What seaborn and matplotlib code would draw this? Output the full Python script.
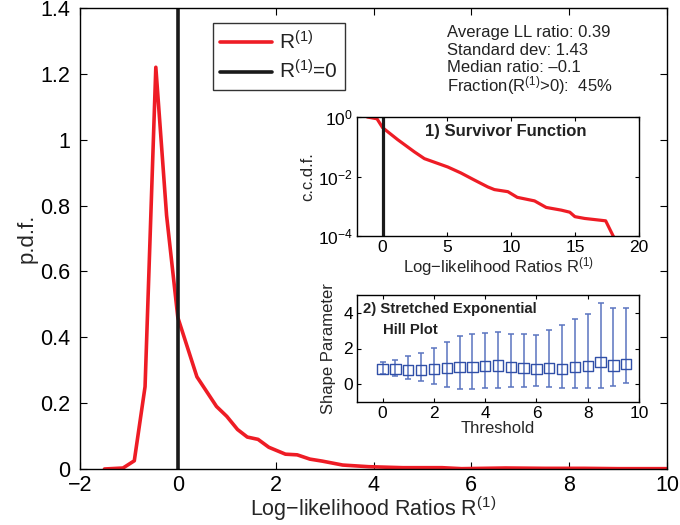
import numpy as np
import pandas as pd
import matplotlib
matplotlib.use("Agg")
import matplotlib.pyplot as plt
import seaborn as sns

# ---------------- data ----------------
pdf_x = [-1.5, -1.12, -0.89, -0.67, -0.45, -0.23, 0.0, 0.39, 0.79, 1.0, 1.22, 1.42,
         1.64, 1.86, 2.2, 2.44, 2.7, 2.95, 3.37, 3.9, 4.6, 5.4, 5.8, 6.7, 7.5, 8.3, 9.0, 10.0]
pdf_y = [0.0, 0.003, 0.025, 0.25, 1.22, 0.77, 0.46, 0.28, 0.19, 0.16, 0.12, 0.097,
         0.09, 0.066, 0.045, 0.043, 0.03, 0.024, 0.012, 0.007, 0.004, 0.004, 0.001, 0.003,
         0.002, 0.002, 0.001, 0.001]

ccdf_x = [-1.2, -0.44, 0.0, 1.17, 2.47, 3.26, 4.04, 5.08, 6.1, 7.16, 8.2, 8.72, 9.77,
          10.5, 11.85, 12.76, 13.93, 14.6, 15.0, 15.76, 17.4, 18.1]
ccdf_logy = [0.0, -0.06, -0.36, -0.76, -1.17, -1.40, -1.52, -1.68, -1.88, -2.12, -2.35,
             -2.44, -2.51, -2.70, -2.82, -3.04, -3.13, -3.20, -3.35, -3.41, -3.49, -4.1]

hill_threshold = [0, 0.5, 1, 1.5, 2, 2.5, 3, 3.5, 4, 4.5, 5, 5.5, 6, 6.5, 7, 7.5, 8, 8.5, 9, 9.5]
hill_shape = [0.85, 0.85, 0.81, 0.81, 0.85, 0.91, 0.96, 0.96, 1.0, 1.04, 0.96, 0.91, 0.85,
              0.91, 0.85, 0.96, 1.0, 1.23, 1.04, 1.15]
hill_upper = [1.25, 1.38, 1.57, 1.72, 2.02, 2.38, 2.68, 2.83, 2.85, 2.92, 2.79, 2.79, 2.74,
              3.06, 3.30, 3.66, 3.96, 4.57, 4.25, 4.25]
hill_lower = [0.58, 0.43, 0.30, 0.19, 0.0, -0.17, -0.26, -0.26, -0.23, -0.21, -0.15, -0.15,
              -0.08, -0.15, -0.21, -0.23, -0.23, -0.23, -0.09, 0.06]

stats_lines = ["Average LL ratio: 0.39", "Standard dev: 1.43", "Median ratio: \u20130.1",
               "Fraction(R$^{(1)}$>0):  45%"]

# ---------------- style ----------------
sns.set_theme(style="ticks")
plt.rcParams['font.family'] = ['Liberation Sans', 'DejaVu Sans']
plt.rcParams['mathtext.fontset'] = 'custom'
plt.rcParams['mathtext.rm'] = 'Liberation Sans'
plt.rcParams['mathtext.it'] = 'Liberation Sans:italic'
plt.rcParams['mathtext.bf'] = 'Liberation Sans:bold'
plt.rcParams['axes.edgecolor'] = 'black'
plt.rcParams['axes.linewidth'] = 1.0
plt.rcParams['xtick.color'] = 'black'
plt.rcParams['ytick.color'] = 'black'
plt.rcParams['text.color'] = '#222222'

RED = '#ee1c25'
BLUE = '#3150a8'

fig = plt.figure(figsize=(6.8, 5.25), dpi=100)
ax = fig.add_axes([80/680, 1-469/525, 587/680, 461/525])

df_pdf = pd.DataFrame({"x": pdf_x, "y": pdf_y})
sns.lineplot(data=df_pdf, x="x", y="y", ax=ax, color=RED, lw=2.6, label="R$^{(1)}$",
             sort=False, estimator=None)
ax.axvline(0, color='#1a1a1a', lw=2.6, label="R$^{(1)}$=0")
ax.set_xlim(-2, 10)
ax.set_ylim(0, 1.4)
ax.set_xticks([-2, 0, 2, 4, 6, 8, 10])
ax.set_yticks([0, 0.2, 0.4, 0.6, 0.8, 1.0, 1.2, 1.4])
ax.set_yticklabels(["0", "0.2", "0.4", "0.6", "0.8", "1", "1.2", "1.4"])
ax.tick_params(direction='in', top=True, right=True, labelsize=15.5, length=5, width=0.8, pad=4)
ax.tick_params(axis='x', pad=4)
ax.tick_params(axis='y', pad=7)
ax.set_xlabel("Log\u2212likelihood Ratios R$^{(1)}$", fontsize=15.5, labelpad=-1)
ax.set_ylabel("p.d.f.", fontsize=16, labelpad=2)
leg = ax.legend(loc='upper left', bbox_to_anchor=((213-80)/587, (469-23)/461), borderaxespad=0,
                fontsize=15, frameon=True, fancybox=False, handlelength=2.5,
                borderpad=0.35, labelspacing=0.3, handletextpad=0.3)
leg.get_frame().set_edgecolor('black')
leg.get_frame().set_linewidth(1.0)

for i, s in enumerate(stats_lines):
    fig.text(447/680, 1-(33+17.5*i)/525, s, fontsize=12, va='center', ha='left')

# ---------------- inset 1: survivor function ----------------
ax1 = fig.add_axes([357/680, 1-236/525, 282/680, 119/525])
df_ccdf = pd.DataFrame({"x": ccdf_x, "y": 10.0**np.array(ccdf_logy)})
sns.lineplot(data=df_ccdf, x="x", y="y", ax=ax1, color=RED, lw=2.3, sort=False, estimator=None)
ax1.axvline(0, color='#1a1a1a', lw=2.3)
ax1.set_yscale('log')
ax1.set_xlim(-2, 20)
ax1.set_ylim(1e-4, 1)
ax1.set_yticks([1e-4, 1e-2, 1])
ax1.yaxis.set_minor_locator(matplotlib.ticker.NullLocator())
ax1.set_xticks([0, 5, 10, 15, 20])
ax1.tick_params(direction='in', top=True, right=True, labelsize=12.5, length=3, width=0.8, pad=3)
ax1.set_xlabel("Log\u2212likelihood Ratios R$^{(1)}$", fontsize=12, labelpad=0)
ax1.set_ylabel("c.c.d.f.", fontsize=12, labelpad=2)
ax1.text((506-357)/282, 0.874, "1) Survivor Function", transform=ax1.transAxes, fontsize=12,
         fontweight='bold', ha='center', va='center')

# ---------------- inset 2: Hill plot ----------------
ax2 = fig.add_axes([357/680, 1-402/525, 282/680, 107/525])
hs = np.array(hill_shape)
yerr = np.vstack([hs - np.array(hill_lower), np.array(hill_upper) - hs])
ax2.errorbar(hill_threshold, hs, yerr=yerr, fmt='none', ecolor='#5a74c0', elinewidth=1.1,
             capsize=2.5, capthick=1.1)
df_hill = pd.DataFrame({"t": hill_threshold, "s": hill_shape})
sns.scatterplot(data=df_hill, x="t", y="s", ax=ax2, marker='s', s=55, facecolor='none',
                edgecolor=BLUE, linewidth=1.0, zorder=3)
ax2.set_xlim(-1, 10)
ax2.set_ylim(-1, 5)
ax2.set_xticks([0, 2, 4, 6, 8, 10])
ax2.set_yticks([0, 2, 4])
ax2.tick_params(direction='in', top=True, right=True, labelsize=12.5, length=3, width=0.8, pad=3)
ax2.set_xlabel("Threshold", fontsize=12, labelpad=0)
ax2.set_ylabel("Shape Parameter", fontsize=12, labelpad=5)
ax2.text((363-357)/282, (402-309)/107, "2) Stretched Exponential", transform=ax2.transAxes,
         fontsize=10.7, fontweight='bold', ha='left', va='center')
ax2.text((383-357)/282, (402-330)/107, "Hill Plot", transform=ax2.transAxes, fontsize=10.7,
         fontweight='bold', ha='left', va='center')

fig.savefig("out.png", dpi=100)
